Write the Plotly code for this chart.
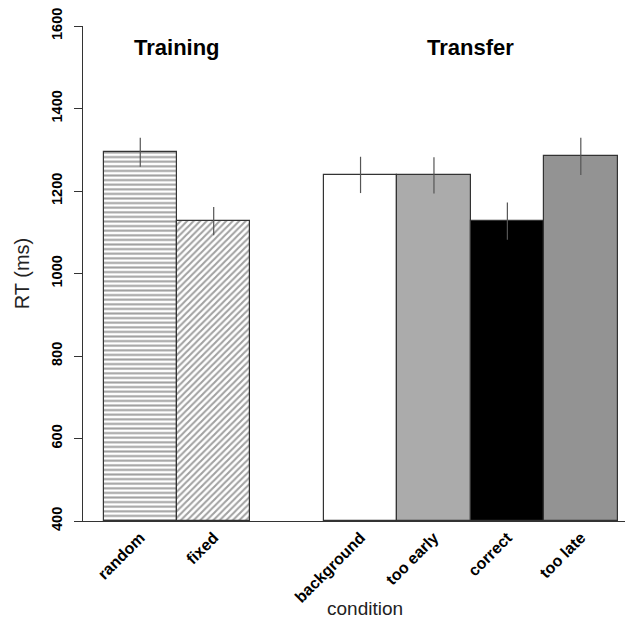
import plotly.graph_objects as go

# ---- data ----
training_conditions = ["random", "fixed"]
transfer_conditions = ["background", "too early", "correct", "too late"]
training_rt = [1294, 1127]
transfer_rt = [1239, 1238, 1127, 1284]
training_err = [35, 34]
transfer_err = [44, 44, 45, 45]
group_labels = ["Training", "Transfer"]
y_ticks = [400, 600, 800, 1000, 1200, 1400, 1600]

# ---- layout helpers (positions computed, gap of one bar between groups) ----
conditions = training_conditions + transfer_conditions
rts = training_rt + transfer_rt
errs = training_err + transfer_err
positions = list(range(len(training_conditions))) + \
    [len(training_conditions) + 1 + i for i in range(len(transfer_conditions))]

fills = ["white", "white", "white", "#ababab", "black", "#939393"]
shapes = ["-", "/", "", "", "", ""]

font_family = "Liberation Sans, Arial, sans-serif"

fig = go.Figure()
fig.add_trace(go.Bar(
    x=positions,
    y=[v - 400 for v in rts],
    base=400,
    width=1.0,
    marker=dict(
        color=fills,
        line=dict(color="#333333", width=1.2),
        pattern=dict(shape=shapes, fgcolor="#111111", bgcolor="white",
                     size=4.6, solidity=0.45),
    ),
    error_y=dict(type="data", array=errs, arrayminus=errs, symmetric=False,
                 color="#555555", thickness=1.2, width=0),
    showlegend=False,
    hoverinfo="skip",
))

train_center = sum(positions[:len(training_conditions)]) / len(training_conditions)
transfer_center = sum(positions[len(training_conditions):]) / len(transfer_conditions)
for label, cx in zip(group_labels, [train_center, transfer_center]):
    fig.add_annotation(x=cx, y=1548, xref="x", yref="y", text="<b>%s</b>" % label,
                       showarrow=False, font=dict(size=22, color="black", family=font_family))

# axis titles
fig.add_annotation(x=0.515, y=-0.177, xref="paper", yref="paper", text="condition",
                   showarrow=False, yanchor="middle",
                   font=dict(size=19, color="#222222", family=font_family))
fig.add_annotation(x=-0.112, y=0.5, xref="paper", yref="paper", text="RT (ms)",
                   showarrow=False, textangle=-90, xanchor="center",
                   font=dict(size=20, color="#222222", family=font_family))

# page body adds an 8px offset, so the figure is sized 8px smaller
fig.update_layout(
    width=625, height=613,
    margin=dict(l=75, r=3, t=18, b=100),
    paper_bgcolor="white", plot_bgcolor="white",
    font=dict(family=font_family, color="black"),
    bargap=0,
)
fig.update_xaxes(
    range=[-0.78, 6.67], automargin=False,
    tickmode="array", tickvals=positions,
    ticktext=["<b>%s</b>" % c for c in conditions],
    tickangle=-45, tickfont=dict(size=16, color="black"),
    ticks="", showgrid=False, zeroline=False,
    showline=True, linecolor="#333333", linewidth=1.2,
)
fig.update_yaxes(
    range=[400, 1600], automargin=False,
    tickmode="array", tickvals=y_ticks,
    tickangle=-90, tickfont=dict(size=14.5, color="black", weight="bold"),
    ticks="outside", ticklen=8, tickcolor="#333333", tickwidth=1.2,
    ticklabelstandoff=6, ticklabeloverflow="allow",
    showgrid=False, zeroline=False,
    showline=True, linecolor="#333333", linewidth=1.2,
)

fig.write_html("out.html")
